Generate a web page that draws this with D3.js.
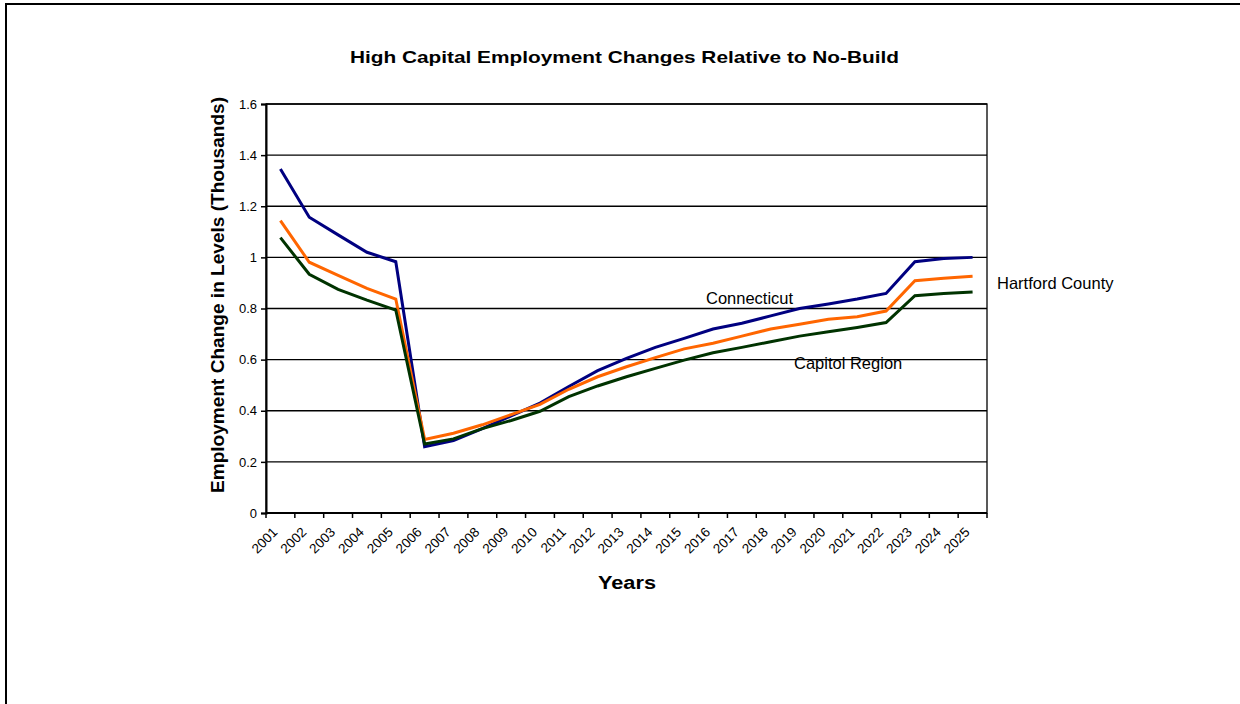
<!DOCTYPE html>
<html><head><meta charset="utf-8">
<script src="https://cdn.jsdelivr.net/npm/d3@7"></script>
<style>
body{margin:0;background:#fff;}
text{font-family:"Liberation Sans",Arial,sans-serif;fill:#000;}
</style></head>
<body>
<svg id="chart" width="1240" height="704"></svg>
<script>
const years = ["2001","2002","2003","2004","2005","2006","2007","2008","2009","2010","2011","2012","2013","2014","2015","2016","2017","2018","2019","2020","2021","2022","2023","2024","2025"];
const connecticut = [1.346,1.157,1.088,1.020,0.983,0.259,0.283,0.330,0.380,0.430,0.495,0.557,0.605,0.648,0.683,0.720,0.742,0.771,0.800,0.818,0.837,0.859,0.983,0.996,1.000];
const hartford = [1.144,0.981,0.930,0.879,0.837,0.288,0.312,0.345,0.385,0.425,0.484,0.533,0.572,0.608,0.642,0.664,0.692,0.720,0.738,0.758,0.768,0.790,0.909,0.918,0.926];
const capitol = [1.077,0.934,0.875,0.833,0.794,0.270,0.290,0.330,0.362,0.398,0.455,0.497,0.533,0.566,0.598,0.627,0.648,0.670,0.692,0.709,0.726,0.745,0.850,0.859,0.865];
const yTicks = [0,0.2,0.4,0.6,0.8,1,1.2,1.4,1.6];
const seriesNames = ["Connecticut","Hartford County","Capitol Region"];
const seriesColors = ["#000080","#FF6600","#003300"];

const svg = d3.select("#chart");
// outer frame
svg.append("rect").attr("x",6).attr("y",4).attr("width",1400).attr("height",900)
  .attr("fill","none").attr("stroke","#000").attr("stroke-width",2);

const L=266,R=987,T=104,B=513;
const x = d3.scaleBand().domain(years).range([L,R]).padding(0);
const y = d3.scaleLinear().domain([0,1.6]).range([B,T]);
const cx = d => x(d)+x.bandwidth()/2;

// gridlines
svg.append("g").selectAll("line").data(yTicks).join("line")
  .attr("x1",L).attr("x2",R).attr("y1",d=>y(d)).attr("y2",d=>y(d))
  .attr("stroke","#000").attr("stroke-width",1.3);

// plot border
svg.append("rect").attr("x",L).attr("y",T).attr("width",R-L).attr("height",B-T)
  .attr("fill","none").attr("stroke","#000").attr("stroke-width",1.3);

// y axis
const yAxis = d3.axisLeft(y).tickValues(yTicks).tickSize(5).tickPadding(4).tickFormat(d=>String(d));
const gy = svg.append("g").attr("transform",`translate(${L},0)`).call(yAxis);
gy.select(".domain").attr("stroke","#000").attr("stroke-width",2);
gy.selectAll(".tick line").attr("stroke","#000").attr("stroke-width",1.5);
gy.selectAll(".tick text").attr("font-size",13).attr("font-family","Liberation Sans, Arial, sans-serif");

// x axis ticks at category boundaries
const gx = svg.append("g");
gx.append("line").attr("x1",L).attr("x2",R).attr("y1",B).attr("y2",B).attr("stroke","#000").attr("stroke-width",2);
const bounds = years.map(d=>x(d)).concat([R]);
gx.selectAll("line.tk").data(bounds).join("line").attr("class","tk")
  .attr("x1",d=>d).attr("x2",d=>d).attr("y1",B).attr("y2",B+5).attr("stroke","#000").attr("stroke-width",1.5);
gx.selectAll("text").data(years).join("text")
  .attr("transform",d=>`translate(${cx(d)-2},${B+20}) rotate(-45)`)
  .attr("text-anchor","end").attr("font-size",13.5).text(d=>d);

// lines
const allSeries = [connecticut,hartford,capitol];
const line = d3.line().x((d,i)=>cx(years[i])).y(d=>y(d));
svg.append("g").selectAll("path").data(allSeries).join("path")
  .attr("d",line).attr("fill","none").attr("stroke",(d,i)=>seriesColors[i])
  .attr("stroke-width",3).attr("stroke-linejoin","miter");

// title & axis titles
svg.append("text").attr("x",624.5).attr("y",63).attr("text-anchor","middle")
  .attr("font-size",17).attr("font-weight","bold").attr("textLength",549).attr("lengthAdjust","spacingAndGlyphs")
  .text("High Capital Employment Changes Relative to No-Build");
svg.append("text").attr("transform","translate(224,295) rotate(-90)").attr("text-anchor","middle")
  .attr("font-size",18).attr("font-weight","bold").attr("textLength",396).attr("lengthAdjust","spacingAndGlyphs")
  .text("Employment Change in Levels (Thousands)");
svg.append("text").attr("x",627).attr("y",589).attr("text-anchor","middle")
  .attr("font-size",18).attr("font-weight","bold").attr("textLength",58).attr("lengthAdjust","spacingAndGlyphs")
  .text("Years");

// series labels
const labelPos = [[706,304],[997,289],[794,369]];
svg.append("g").selectAll("text").data(seriesNames).join("text")
  .attr("x",(d,i)=>labelPos[i][0]).attr("y",(d,i)=>labelPos[i][1])
  .attr("font-size",16.5).text(d=>d);
</script>
</body></html>
